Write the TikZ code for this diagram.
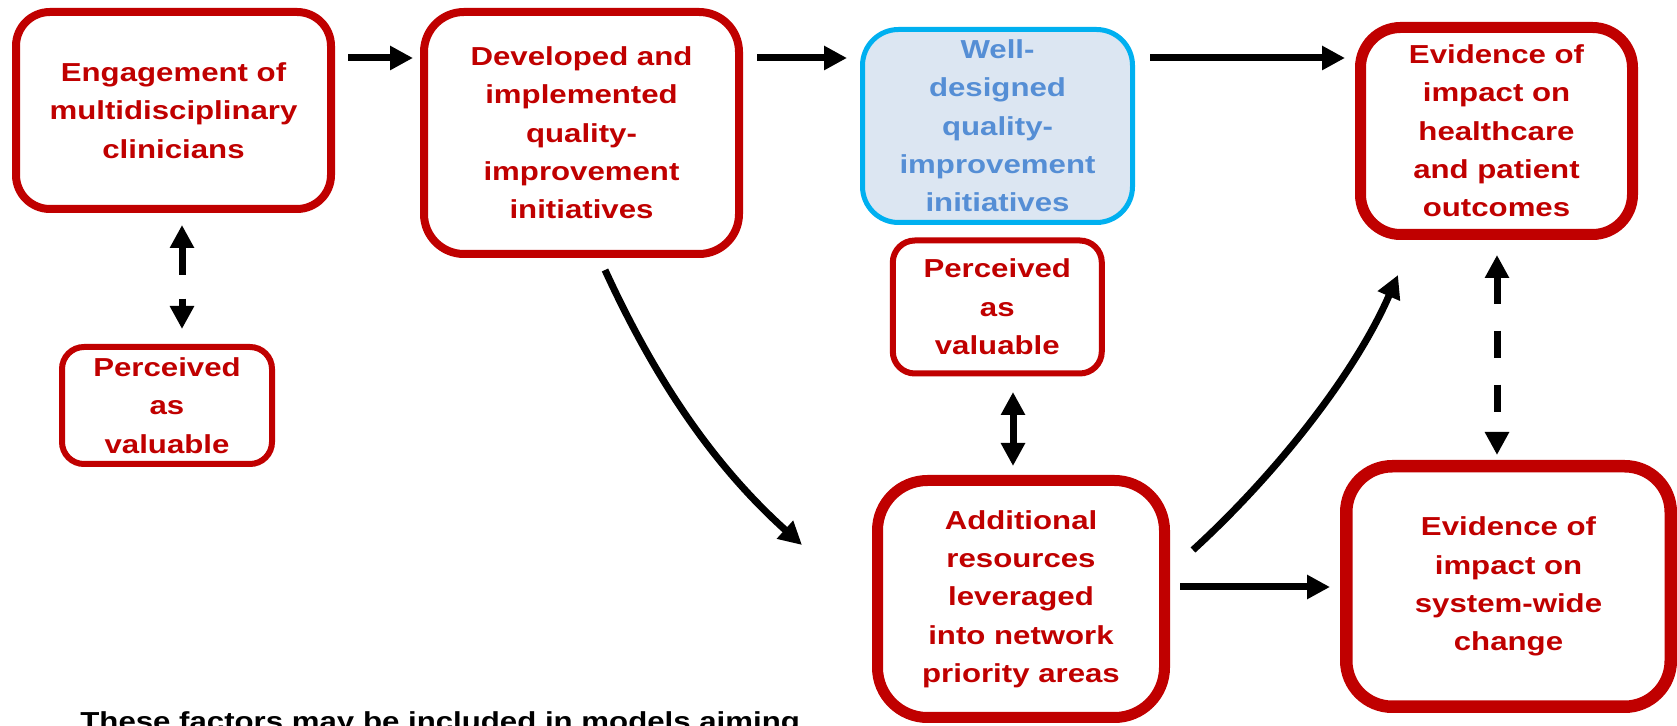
\documentclass[tikz,border=0pt]{standalone}
\usepackage{fontspec}
\setmainfont{Liberation Sans}[FakeStretch=1.2]
\usetikzlibrary{arrows.meta}
\definecolor{dred}{RGB}{192,0,0}
\definecolor{qblue}{RGB}{0,176,240}
\definecolor{qfill}{RGB}{220,230,242}
\definecolor{qtext}{RGB}{85,142,213}
\tikzset{
  box/.style={draw=dred, text=dred, fill=white, rectangle, align=center, inner sep=0pt,
    font=\fontsize{13}{19.15}\selectfont\bfseries},
  tip/.tip={Triangle[length=11.5pt,width=11.5pt]},
  arr/.style={line width=3.5pt, -tip},
  darr/.style={line width=3.5pt, tip-tip},
}
\begin{document}
\begin{tikzpicture}[x=0.5pt,y=-0.5pt]
\clip (0,0) rectangle (1677,726);
\fill[white] (0,0) rectangle (1677,726);

% boxes
\node[box, line width=4pt, rounded corners=17pt, minimum width=157.5pt, minimum height=98.5pt]
  (eng) at (173.5,110.5) {Engagement of\\multidisciplinary\\clinicians};
\node[box, line width=4pt, rounded corners=20pt, minimum width=157.5pt, minimum height=121pt]
  (dev) at (581.5,133) {Developed and\\implemented\\quality-\\improvement\\initiatives};
\node[box, draw=qblue, fill=qfill, text=qtext, line width=2.5pt, rounded corners=18pt, minimum width=135pt, minimum height=96.5pt]
  (well) at (997.5,126) {Well-\\designed\\quality-\\improvement\\initiatives};
\node[box, line width=5.5pt, rounded corners=20pt, minimum width=136pt, minimum height=103.5pt]
  (health) at (1496.5,131) {Evidence of\\impact on\\healthcare\\and patient\\outcomes};
\node[box, line width=3pt, rounded corners=11pt, minimum width=105pt, minimum height=58.5pt]
  (pl) at (167,405.5) {Perceived\\as\\valuable};
\node[box, line width=3pt, rounded corners=11pt, minimum width=104.5pt, minimum height=66.5pt]
  (pm) at (997.3,307) {Perceived\\as\\valuable};
\node[box, line width=5.5pt, rounded corners=25pt, minimum width=143.5pt, minimum height=118.5pt]
  (add) at (1021,599) {Additional\\resources\\leveraged\\into network\\priority areas};
\node[box, line width=6.25pt, rounded corners=23pt, minimum width=162.25pt, minimum height=120.25pt]
  (sys) at (1508.5,586.5) {Evidence of\\impact on\\system-wide\\change};

\node[anchor=base west, inner sep=0pt, font=\fontsize{13}{19.15}\selectfont\bfseries]
  (note) at (80,731) {These factors may be included in models aiming};

% helper coordinates
\coordinate (ytop) at (0,58);
\coordinate (ybot) at (0,587);
\coordinate (xL) at (182,0);
\coordinate (xM) at (1013,0);
\coordinate (xR) at (1497,0);

% straight arrows
\draw[arr, shorten <=6.5pt, shorten >=3.5pt] (eng.east |- ytop) -- (dev.west |- ytop);
\draw[arr, shorten <=7pt, shorten >=6.5pt] (dev.east |- ytop) -- (well.west |- ytop);
\draw[arr, shorten <=7.5pt, shorten >=5pt] (well.east |- ytop) -- (health.west |- ytop);
\draw[arr, shorten <=5pt, shorten >=5pt] (add.east |- ybot) -- (sys.west |- ybot);

% curved arrows
\draw[arr] ([shift={(23.5,12)}]dev.south) .. controls +(50,109) and +(-89,-80) .. ([shift={(-70,-54)}]add.west);
\draw[arr] ([shift={(23,-49)}]add.east) .. controls +(81,-74) and +(-44,101) .. ([shift={(-98.5,35)}]health.south);

% double arrows
\draw[darr, dash pattern=on 14pt off 12pt, shorten <=6pt, shorten >=7.5pt] (eng.south -| xL) -- (pl.north -| xL);
\draw[darr, shorten <=7.75pt, shorten >=4.5pt] (pm.south -| xM) -- (add.north -| xM);
\draw[darr, dash pattern=on 13.5pt off 13.5pt, shorten <=7.5pt, shorten >=2.5pt] (health.south -| xR) -- (sys.north -| xR);
\end{tikzpicture}
\end{document}
